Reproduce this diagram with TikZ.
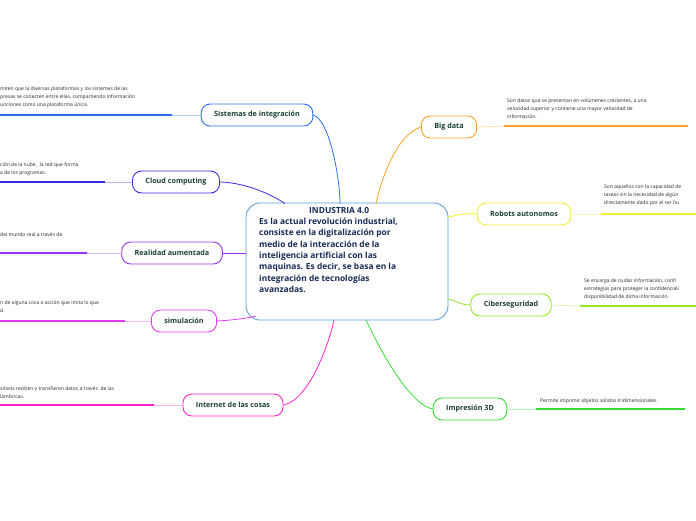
\documentclass[tikz,border=0pt]{standalone}
\usepackage{fontspec}
\setmainfont{Open Sans}
\begin{document}
\begin{tikzpicture}[x=1pt,y=-1pt,
  topic/.style={draw=#1,line width=0.9pt,rounded corners=9pt,minimum height=22pt,inner xsep=13pt,fill=white,font=\fontsize{7.2}{8}\selectfont\bfseries,text=txtgreen},
  desc/.style={font=\fontsize{5}{8.4}\selectfont,align=left,anchor=north west,inner sep=0pt,text=black!85},
  conn/.style={draw=#1,line width=0.8pt},
  thick/.style={draw=#1,line width=1.3pt},
  thin/.style={draw=#1!35,line width=0.8pt}]
\definecolor{txtgreen}{HTML}{1A4034}
\definecolor{navy}{HTML}{152A55}
\definecolor{cblue}{HTML}{5AA0DC}
\definecolor{csis}{HTML}{2E6BF2}
\definecolor{ccloud}{HTML}{3B2BE6}
\definecolor{creal}{HTML}{9A32F5}
\definecolor{csim}{HTML}{E23CF2}
\definecolor{cint}{HTML}{FF22CC}
\definecolor{cbig}{HTML}{FFA322}
\definecolor{crob}{HTML}{F2F030}
\definecolor{cciber}{HTML}{95E82A}
\definecolor{cimp}{HTML}{36DD36}
\useasboundingbox (0,0) rectangle (696,520);
\clip (0,0) rectangle (696,520);
% center
\node[draw=cblue,line width=0.9pt,rounded corners=14pt,minimum width=202pt,minimum height=117pt,inner sep=0pt] (c) at (347,261.5) {};
\node[font=\fontsize{8.4}{11.3}\selectfont\bfseries,text=navy,align=left,anchor=north west,inner sep=0pt] (ct) at (259,207) {\hspace*{50pt}INDUSTRIA 4.0\\Es la actual revolución industrial,\\consiste en la digitalización por\\medio de la interacción de la\\inteligencia artificial con las\\maquinas. Es decir, se basa en la\\integración de tecnologías\\avanzadas.};
% topics
\node[topic=csis] (sis) at (257,115) {Sistemas de integración};
\node[topic=ccloud] (clo) at (176,182) {Cloud computing};
\node[topic=creal] (rea) at (172,253) {Realidad aumentada};
\node[topic=csim] (sim) at (184,321) {simulación};
\node[topic=cint] (int) at (233,405) {Internet de las cosas};
\node[topic=cbig] (big) at (449,127) {Big data};
\node[topic=crob] (rob) at (524,214) {Robots autonomos};
\node[topic=cciber] (cib) at (511,305) {Ciberseguridad};
\node[topic=cimp] (imp) at (470,409) {Impresión 3D};
% connectors to center
\draw[conn=csis] (sis.east) .. controls (330,120) and (340,180) .. (340,203.5);
\draw[conn=ccloud] (clo.east) .. controls (250,183) and (275,197) .. (285,203.5);
\draw[conn=creal] (rea.east) -- (c.west |- rea.east);
\draw[conn=csim] (sim.east) .. controls (235,320) and (248,318) .. (256,316);
\draw[conn=cint] (int.east) .. controls (310,400) and (330,340) .. (334,320);
\draw[conn=cbig] (big.west) .. controls (395,135) and (380,185) .. (376,203.5);
\draw[conn=crob] (rob.west) .. controls (460,213) and (455,216) .. (448,217);
\draw[conn=cciber] (cib.west) .. controls (460,305) and (455,300) .. (448,299);
\draw[conn=cimp] (imp.west) .. controls (410,405) and (380,350) .. (366,320);
% left leader lines
\coordinate (s1) at (172,115); \coordinate (s0) at (0,115);
\draw[thin=csis] (sis.west) -- (s1); \draw[thick=csis] (s1) -- (s0);
\coordinate (c1) at (105,182); \coordinate (c0) at (0,182);
\draw[thin=ccloud] (clo.west) -- (c1); \draw[thick=ccloud] (c1) -- (c0);
\coordinate (r1) at (87,253); \coordinate (r0) at (0,253);
\draw[thin=creal] (rea.west) -- (r1); \draw[thick=creal] (r1) -- (r0);
\coordinate (m1) at (125,321); \coordinate (m0) at (0,321);
\draw[thin=csim] (sim.west) -- (m1); \draw[thick=csim] (m1) -- (m0);
\coordinate (i1) at (154,405); \coordinate (i0) at (0,405);
\draw[thin=cint] (int.west) -- (i1); \draw[thick=cint] (i1) -- (i0);
% right leader lines
\coordinate (b1) at (504,126); \coordinate (b2) at (688,126);
\draw[thin=cbig] (big.east) -- (b1); \draw[thick=cbig] (b1) -- (b2);
\coordinate (o1) at (601,214); \coordinate (o2) at (696,214);
\draw[thin=crob] (rob.east) -- (o1); \draw[thick=crob] (o1) -- (o2);
\coordinate (e1) at (580,306); \coordinate (e2) at (696,306);
\draw[thin=cciber] (cib.east) -- (e1); \draw[thick=cciber] (e1) -- (e2);
\coordinate (p1) at (536,409); \coordinate (p2) at (685,409);
\draw[thin=cimp] (imp.east) -- (p1); \draw[thick=cimp] (p1) -- (p2);
% descriptions
\node[desc] (d1) at (0,86) {miten que la diversas plataformas y los sistemas de las\\presas se conecten entre ellas, compartiendo información\\unciones como una plataforma única.};
\node[desc] (d2) at (0,162) {ción de la nube,\ \ la red que forma\\a de los programas.};
\node[desc] (d3) at (0,232) {del mundo real a través de};
\node[desc] (d4) at (0,300) {n de alguna cosa o acción que imita lo que\\d.};
\node[desc] (d5) at (0,386) {sitivos reciben y transfieren datos a través\ \ de las\\lámbricas.};
\node[desc] (d6) at (507,98) {Son datos que se presentan en volúmenes crecientes, a una\\velocidad superior y contiene una mayor velocidad de\\información.};
\node[desc] (d7) at (604,184) {Son aquellos con la capacidad de\\tareas sin la necesidad de algún\\directamente dado por el ser hu};
\node[desc] (d8) at (584,278) {Se encarga de cuidar información, confi\\estrategias para proteger la confidenciali\\disponibilidad de dicha información.};
\node[desc] (d9) at (540,398) {Permite imprimir objetos solidos tridimensionales.};
\end{tikzpicture}
\end{document}
